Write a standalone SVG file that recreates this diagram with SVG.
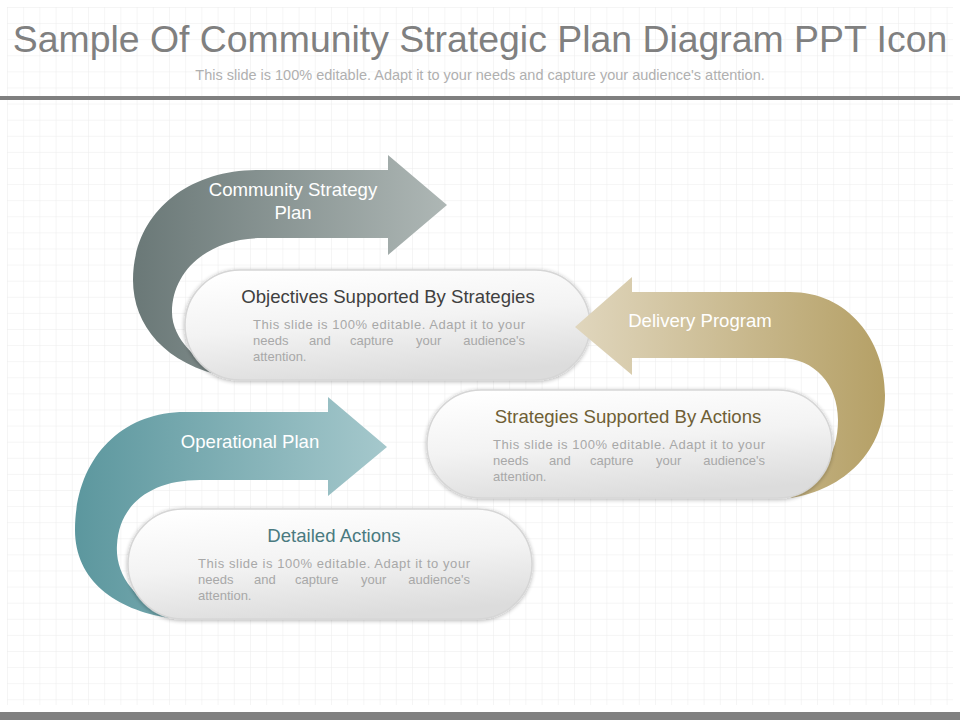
<svg xmlns="http://www.w3.org/2000/svg" width="960" height="720" viewBox="0 0 960 720">
  <defs>
    <pattern id="grid" x="7" y="7" width="16.2" height="16.1" patternUnits="userSpaceOnUse">
      <path d="M0,0 V16.1 M0,0 H16.2" fill="none" stroke="#ececec" stroke-width="1"/>
    </pattern>
    <linearGradient id="gGray" x1="0" y1="0" x2="1" y2="0">
      <stop offset="0" stop-color="#6a7877"/>
      <stop offset="1" stop-color="#aeb7b5"/>
    </linearGradient>
    <linearGradient id="gGold" x1="0" y1="0" x2="1" y2="0">
      <stop offset="0" stop-color="#e0d6bd"/>
      <stop offset="1" stop-color="#b5a066"/>
    </linearGradient>
    <linearGradient id="gTeal" x1="0" y1="0" x2="1" y2="0">
      <stop offset="0" stop-color="#5c979e"/>
      <stop offset="1" stop-color="#a5c8cc"/>
    </linearGradient>
    <linearGradient id="gPill" x1="0.2" y1="0" x2="0.5" y2="1">
      <stop offset="0" stop-color="#ffffff"/>
      <stop offset="0.5" stop-color="#f3f3f3"/>
      <stop offset="1" stop-color="#dcdcdc"/>
    </linearGradient>
    <filter id="sh" x="-10%" y="-20%" width="120%" height="140%">
      <feGaussianBlur in="SourceAlpha" stdDeviation="2"/>
      <feOffset dx="0" dy="1" result="b"/>
      <feComponentTransfer><feFuncA type="linear" slope="0.3"/></feComponentTransfer>
      <feMerge><feMergeNode/><feMergeNode in="SourceGraphic"/></feMerge>
    </filter>
  </defs>
  <style>
    .pill { fill: url(#gPill); stroke: #d6d6d6; stroke-width: 1.5; }
    .lbl { font-family: "Liberation Sans", Arial, sans-serif; font-size: 18.6px; fill: #ffffff; text-anchor: middle; }
    .head { font-family: "Liberation Sans", Arial, sans-serif; font-size: 18.6px; text-anchor: middle; }
    .body { font-family: "Liberation Sans", Arial, sans-serif; font-size: 13px; fill: #a8a8a8; }
    .end { text-anchor: end; }
  </style>
  <rect x="0" y="0" width="960" height="720" fill="#ffffff"/>
  <rect x="7" y="7" width="946" height="698" fill="url(#grid)"/>

  <g id="header">
    <text x="480" y="52" text-anchor="middle" font-family="Liberation Sans, Arial, sans-serif" font-size="37.4" fill="#808080">Sample Of Community Strategic Plan Diagram PPT Icon</text>
    <text x="480" y="80" text-anchor="middle" font-family="Liberation Sans, Arial, sans-serif" font-size="14.5" fill="#b0b0b0">This slide is 100% editable. Adapt it to your needs and capture your audience's attention.</text>
    <rect x="0" y="96" width="960" height="4" fill="#7f7f7f"/>
  </g>

  <g id="arrow-community">
    <path d="M388,170 L258,170 C185,170 133,215 133,280 C133,325 165,365 228,377 C198,362 172,340 172,312 C172,272 207,238 262,238 L388,238 L388,255 L447,205 L388,155 Z" fill="url(#gGray)"/>
    <text class="lbl" x="293" y="196">Community Strategy</text>
    <text class="lbl" x="293" y="219">Plan</text>
  </g>

  <g id="pill-objectives">
    <rect class="pill" x="185" y="270" width="405" height="110" rx="55" filter="url(#sh)"/>
    <text class="head" x="388" y="303" fill="#404040">Objectives Supported By Strategies</text>
    <text class="body" x="253" y="329" textLength="272" lengthAdjust="spacing">This slide is 100% editable. Adapt it to your</text>
    <text class="body" y="345"><tspan x="253">needs</tspan><tspan x="309">and</tspan><tspan x="350">capture</tspan><tspan x="416">your</tspan></text>
    <text class="body end" x="525" y="345">audience's</text>
    <text class="body" x="253" y="361">attention.</text>
  </g>

  <g id="arrow-delivery">
    <path d="M632,292 L790,292 C848,292 885,340 885,395 C885,450 845,490 790,498 C820,480 838,455 838,420 C838,385 815,358 780,358 L632,358 L632,375 L575,327 L632,277 Z" fill="url(#gGold)"/>
    <text class="lbl" x="700" y="327">Delivery Program</text>
  </g>

  <g id="pill-strategies">
    <rect class="pill" x="427" y="390" width="405" height="108" rx="54" filter="url(#sh)"/>
    <text class="head" x="628" y="423" fill="#6f5f35">Strategies Supported By Actions</text>
    <text class="body" x="493" y="449" textLength="272" lengthAdjust="spacing">This slide is 100% editable. Adapt it to your</text>
    <text class="body" y="465"><tspan x="493">needs</tspan><tspan x="549">and</tspan><tspan x="590">capture</tspan><tspan x="656">your</tspan></text>
    <text class="body end" x="765" y="465">audience's</text>
    <text class="body" x="493" y="481">attention.</text>
  </g>

  <g id="arrow-operational">
    <path d="M328,412 L185,412 C120,412 75,460 75,530 C75,580 115,610 170,618 C135,600 115,575 117,545 C119,505 150,480 200,480 L328,480 L328,496 L387,447 L328,397 Z" fill="url(#gTeal)"/>
    <text class="lbl" x="250" y="448">Operational Plan</text>
  </g>

  <g id="pill-detailed">
    <rect class="pill" x="128" y="509" width="404" height="110" rx="55" filter="url(#sh)"/>
    <text class="head" x="334" y="542" fill="#4a7a80">Detailed Actions</text>
    <text class="body" x="198" y="568" textLength="272" lengthAdjust="spacing">This slide is 100% editable. Adapt it to your</text>
    <text class="body" y="584"><tspan x="198">needs</tspan><tspan x="254">and</tspan><tspan x="295">capture</tspan><tspan x="361">your</tspan></text>
    <text class="body end" x="470" y="584">audience's</text>
    <text class="body" x="198" y="600">attention.</text>
  </g>

  <rect x="0" y="712" width="960" height="8" fill="#808080"/>
</svg>
